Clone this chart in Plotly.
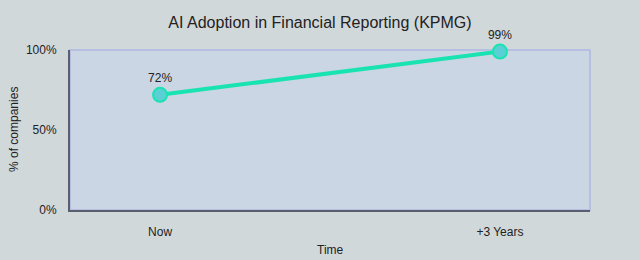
import plotly.graph_objects as go

categories = ["Now", "+3 Years"]
values = [72, 99]
labels = ["72%", "99%"]
y_ticks = [0, 50, 100]
y_ticktext = ["0%", "50%", "100%"]

fig = go.Figure()
fig.add_trace(go.Scatter(
    x=[0, 1], y=values, mode="lines+markers+text",
    text=labels, textposition="top center",
    textfont=dict(size=12, color="#222"),
    line=dict(color="#19e3b1", width=4),
    marker=dict(size=14, color="#5ad0d4", line=dict(color="#19e3b1", width=2)),
    cliponaxis=False, showlegend=False,
))
fig.add_shape(type="rect", xref="paper", yref="paper", x0=0, x1=1, y0=0, y1=1,
              line=dict(color="#b6bfe2", width=2), layer="below")
fig.add_annotation(text="Time", xref="paper", yref="paper", x=0.5, y=0,
                   xanchor="center", yanchor="middle", yshift=-40,
                   showarrow=False, font=dict(size=12, color="#222"))
fig.add_annotation(text="% of companies", xref="paper", yref="paper", x=0, y=0.5,
                   xanchor="center", yanchor="middle", xshift=-56, textangle=-90,
                   showarrow=False, font=dict(size=12, color="#222"))
fig.update_layout(
    width=640, height=260,
    margin=dict(l=70, r=50, t=50, b=50),
    paper_bgcolor="rgb(209,216,218)",
    plot_bgcolor="rgb(202,214,228)",
    font=dict(family="Liberation Sans, Arial, sans-serif", color="#222", size=12),
    title=dict(text="AI Adoption in Financial Reporting (KPMG)", x=0.5, xanchor="center",
               y=0.915, yanchor="middle", font=dict(size=16)),
    xaxis=dict(tickmode="array", tickvals=[0, 1], ticktext=categories,
               range=[-0.265, 1.265], showgrid=False, zeroline=False,
               showline=True, linecolor="#5a5f70", linewidth=2,
               ticklabelstandoff=10, automargin=False),
    yaxis=dict(tickmode="array", tickvals=y_ticks, ticktext=y_ticktext,
               range=[0, 100], showgrid=False, zeroline=False,
               showline=True, linecolor="#5a5f70", linewidth=2,
               ticklabelstandoff=9, automargin=False),
)
fig.write_html("out.html")
